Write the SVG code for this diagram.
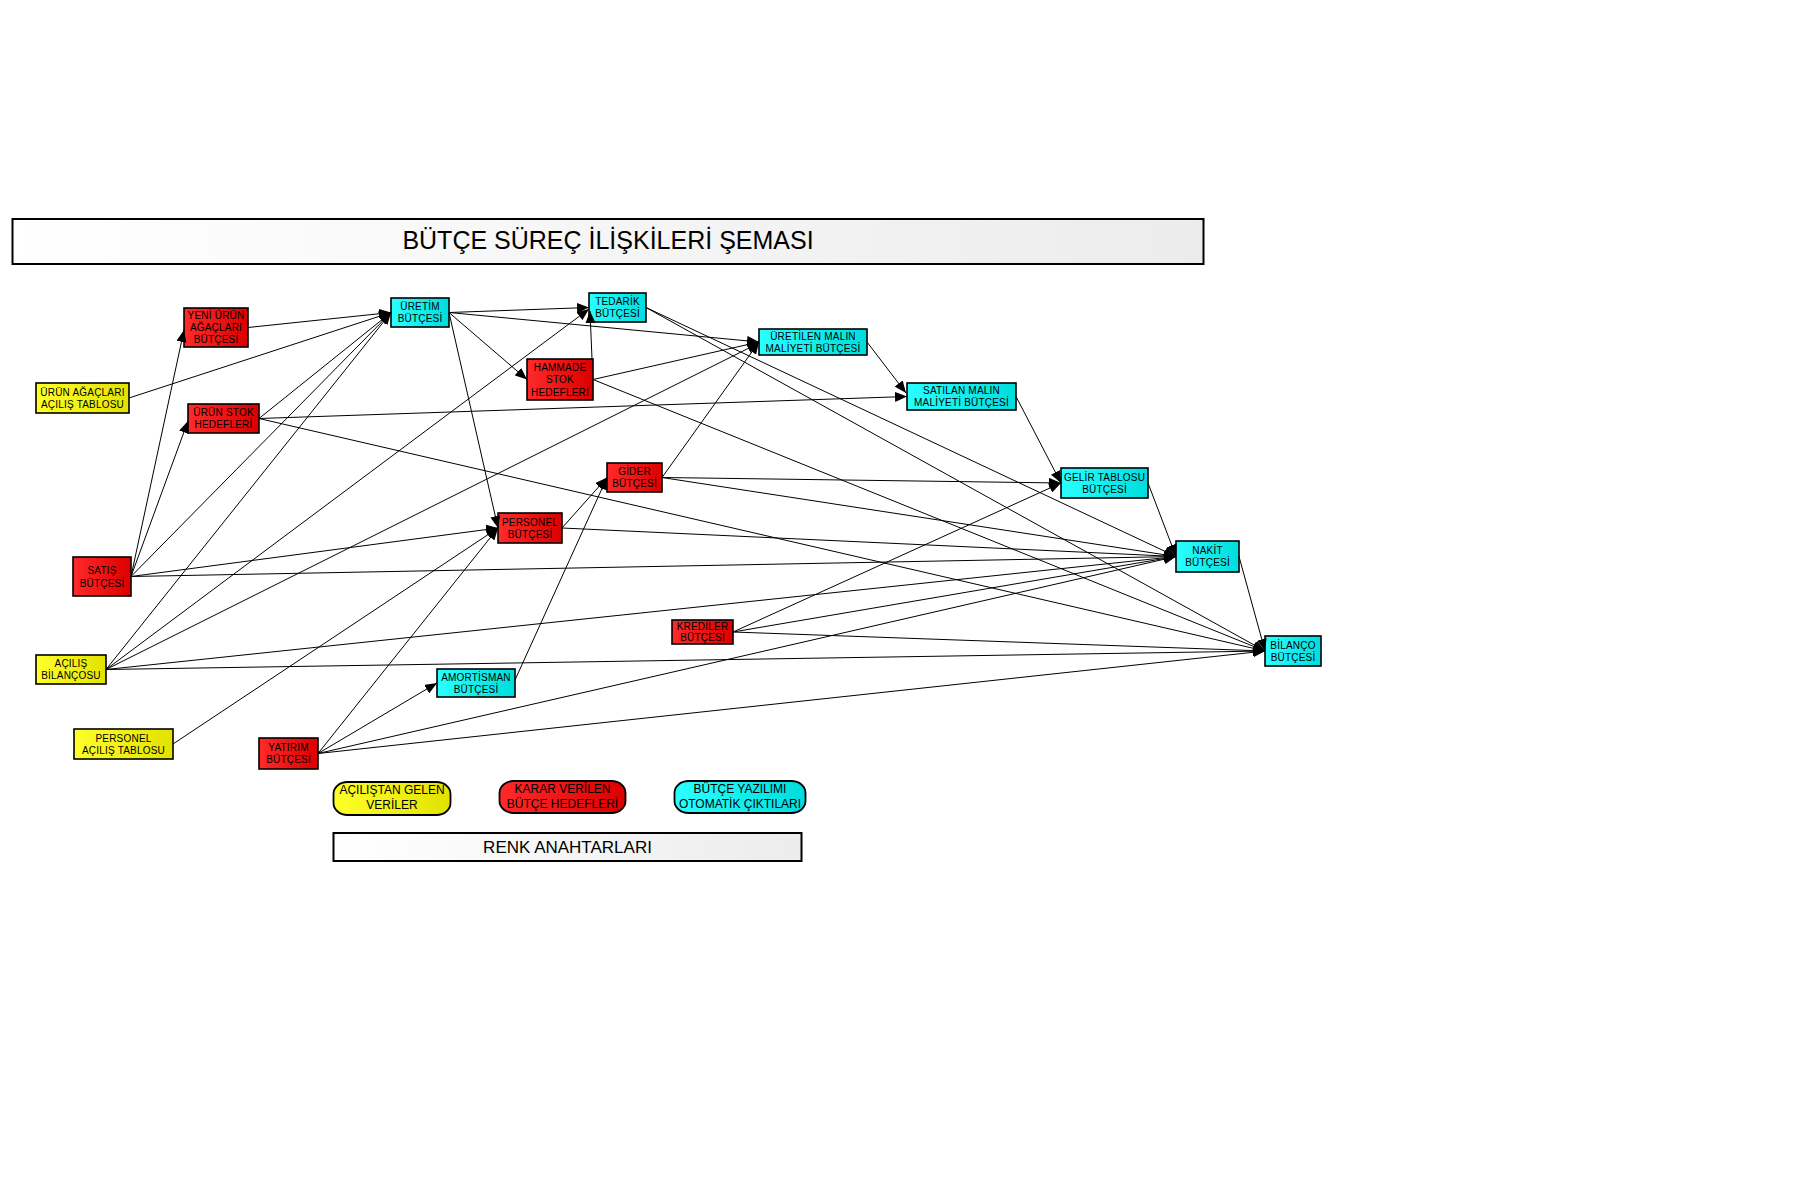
<svg xmlns="http://www.w3.org/2000/svg" width="1800" height="1200" viewBox="0 0 1800 1200">
<defs>
<linearGradient id="gR" x1="0" y1="0" x2="1" y2="0"><stop offset="0" stop-color="#ff2a2a"/><stop offset="1" stop-color="#dc0000"/></linearGradient>
<linearGradient id="gC" x1="0" y1="0" x2="1" y2="0"><stop offset="0" stop-color="#2affff"/><stop offset="1" stop-color="#00dcdc"/></linearGradient>
<linearGradient id="gY" x1="0" y1="0" x2="1" y2="0"><stop offset="0" stop-color="#ffff2a"/><stop offset="1" stop-color="#e2e200"/></linearGradient>
<linearGradient id="gW" x1="0" y1="0" x2="1" y2="0"><stop offset="0" stop-color="#ffffff"/><stop offset="1" stop-color="#ececec"/></linearGradient>
<marker id="arr" markerUnits="userSpaceOnUse" markerWidth="12" markerHeight="10" refX="12" refY="5" orient="auto"><path d="M0,0 L12,5 L0,10 z" fill="#000"/></marker>
<style>
.r{fill:url(#gR)}.c{fill:url(#gC)}.y{fill:url(#gY)}
.n rect{stroke:#000;stroke-width:1.6}
.n text{font-family:"Liberation Sans",Arial,sans-serif;font-size:10px;letter-spacing:0.2px;text-anchor:middle;fill:#000}
.e line{stroke:#000;stroke-width:1;marker-end:url(#arr)}
.lg rect{stroke:#000;stroke-width:1.8}
.lg text{font-family:"Liberation Sans",Arial,sans-serif;font-size:12px;text-anchor:middle;fill:#000}
.hd rect{fill:url(#gW);stroke:#000;stroke-width:2}
.hd text{font-family:"Liberation Sans",Arial,sans-serif;text-anchor:middle;fill:#000}
</style>
</defs>
<rect width="1800" height="1200" fill="#fff"/>

<g id="title" class="hd"><rect x="12.5" y="219" width="1191" height="45"/><text x="608" y="249" font-size="25">BÜTÇE SÜREÇ İLİŞKİLERİ ŞEMASI</text></g>

<g id="n-uretim" class="n"><rect class="c" x="391" y="298" width="58" height="29"/><text x="420" y="310">ÜRETİM</text><text x="420" y="322">BÜTÇESİ</text></g>
<g id="n-tedarik" class="n"><rect class="c" x="589" y="293" width="57" height="29"/><text x="617.5" y="305">TEDARİK</text><text x="617.5" y="317">BÜTÇESİ</text></g>
<g id="n-yeni" class="n"><rect class="r" x="184" y="308" width="64" height="39"/><text x="216" y="319">YENİ ÜRÜN</text><text x="216" y="331">AĞAÇLARI</text><text x="216" y="343">BÜTÇESİ</text></g>
<g id="n-urunagac" class="n"><rect class="y" x="36" y="383" width="93" height="30"/><text x="82.5" y="395.5">ÜRÜN AĞAÇLARI</text><text x="82.5" y="407.5">AÇILIŞ TABLOSU</text></g>
<g id="n-urunstok" class="n"><rect class="r" x="188" y="404" width="71" height="29"/><text x="223.5" y="416">ÜRÜN STOK</text><text x="223.5" y="428">HEDEFLERİ</text></g>
<g id="n-hammade" class="n"><rect class="r" x="527" y="359" width="66" height="41"/><text x="560" y="370.5">HAMMADE</text><text x="560" y="383">STOK</text><text x="560" y="395.5">HEDEFLERİ</text></g>
<g id="n-uretilen" class="n"><rect class="c" x="759" y="329" width="108" height="26"/><text x="813" y="339.5">ÜRETİLEN MALIN</text><text x="813" y="351.5">MALİYETİ BÜTÇESİ</text></g>
<g id="n-satilan" class="n"><rect class="c" x="907" y="383" width="109" height="27"/><text x="961.5" y="394">SATILAN MALIN</text><text x="961.5" y="406">MALİYETİ BÜTÇESİ</text></g>
<g id="n-gider" class="n"><rect class="r" x="607" y="463" width="55" height="29"/><text x="634.5" y="475">GİDER</text><text x="634.5" y="487">BÜTÇESİ</text></g>
<g id="n-gelir" class="n"><rect class="c" x="1061" y="468" width="87" height="30"/><text x="1104.5" y="480.5">GELİR TABLOSU</text><text x="1104.5" y="492.5">BÜTÇESİ</text></g>
<g id="n-personel" class="n"><rect class="r" x="498" y="513" width="64" height="30"/><text x="530" y="525.5">PERSONEL</text><text x="530" y="537.5">BÜTÇESİ</text></g>
<g id="n-satis" class="n"><rect class="r" x="73" y="557" width="58" height="39"/><text x="102" y="574">SATIŞ</text><text x="102" y="586.5">BÜTÇESİ</text></g>
<g id="n-nakit" class="n"><rect class="c" x="1176" y="541" width="63" height="31"/><text x="1207.5" y="554">NAKİT</text><text x="1207.5" y="566">BÜTÇESİ</text></g>
<g id="n-krediler" class="n"><rect class="r" x="672" y="620" width="61" height="24"/><text x="702.5" y="629.5">KREDİLER</text><text x="702.5" y="641">BÜTÇESİ</text></g>
<g id="n-acilis" class="n"><rect class="y" x="36" y="655" width="70" height="29"/><text x="71" y="667">AÇILIŞ</text><text x="71" y="679">BİLANÇOSU</text></g>
<g id="n-bilanco" class="n"><rect class="c" x="1265" y="636" width="56" height="30"/><text x="1293" y="648.5">BİLANÇO</text><text x="1293" y="660.5">BÜTÇESİ</text></g>
<g id="n-amortisman" class="n"><rect class="c" x="437" y="669" width="78" height="28"/><text x="476" y="680.5">AMORTİSMAN</text><text x="476" y="692.5">BÜTÇESİ</text></g>
<g id="n-persacilis" class="n"><rect class="y" x="74" y="729" width="99" height="30"/><text x="123.5" y="741.5">PERSONEL</text><text x="123.5" y="753.5">AÇILIŞ TABLOSU</text></g>
<g id="n-yatirim" class="n"><rect class="r" x="259" y="738" width="59" height="31"/><text x="288.5" y="751">YATIRIM</text><text x="288.5" y="763">BÜTÇESİ</text></g>

<g id="connectors" class="e">
<line x1="248" y1="327.5" x2="391" y2="312.5"/>
<line x1="129" y1="398" x2="391" y2="312.5"/>
<line x1="259" y1="418.5" x2="391" y2="312.5"/>
<line x1="131" y1="576.5" x2="391" y2="312.5"/>
<line x1="106" y1="669.5" x2="391" y2="312.5"/>
<line x1="131" y1="576.5" x2="184" y2="330"/>
<line x1="131" y1="576.5" x2="188" y2="421"/>
<line x1="131" y1="576.5" x2="498" y2="528"/>
<line x1="131" y1="576.5" x2="1176" y2="556.5"/>
<line x1="106" y1="669.5" x2="589" y2="309"/>
<line x1="106" y1="669.5" x2="759" y2="343"/>
<line x1="106" y1="669.5" x2="1176" y2="556.5"/>
<line x1="106" y1="669.5" x2="1265" y2="651"/>
<line x1="173" y1="744" x2="498" y2="528"/>
<line x1="318" y1="753.5" x2="498" y2="528"/>
<line x1="318" y1="753.5" x2="437" y2="683"/>
<line x1="318" y1="753.5" x2="1176" y2="556.5"/>
<line x1="318" y1="753.5" x2="1265" y2="651"/>
<line x1="515" y1="680" x2="607" y2="477.5"/>
<line x1="562" y1="528" x2="607" y2="477.5"/>
<line x1="562" y1="528" x2="1176" y2="556.5"/>
<line x1="449" y1="312.5" x2="498" y2="528"/>
<line x1="449" y1="312.5" x2="589" y2="307.5"/>
<line x1="449" y1="312.5" x2="527" y2="379.5"/>
<line x1="449" y1="312.5" x2="759" y2="342"/>
<line x1="592" y1="359" x2="590" y2="311"/>
<line x1="593" y1="379.5" x2="759" y2="342"/>
<line x1="593" y1="379.5" x2="1265" y2="651"/>
<line x1="646" y1="307.5" x2="1176" y2="556.5"/>
<line x1="646" y1="307.5" x2="1265" y2="651"/>
<line x1="867" y1="342" x2="906" y2="393"/>
<line x1="259" y1="418.5" x2="907" y2="396.5"/>
<line x1="259" y1="418.5" x2="1265" y2="651"/>
<line x1="662" y1="477.5" x2="759" y2="342"/>
<line x1="662" y1="477.5" x2="1061" y2="483"/>
<line x1="662" y1="477.5" x2="1176" y2="556.5"/>
<line x1="1016" y1="396.5" x2="1061" y2="483"/>
<line x1="1148" y1="483" x2="1176" y2="556.5"/>
<line x1="733" y1="632" x2="1061" y2="483"/>
<line x1="733" y1="632" x2="1176" y2="556.5"/>
<line x1="733" y1="632" x2="1265" y2="651"/>
<line x1="1239" y1="556.5" x2="1265" y2="651"/>
</g>

<g id="legend-acilis" class="lg"><rect class="y" x="333.5" y="782" width="117" height="33" rx="14" ry="12"/><text x="392" y="793.5">AÇILIŞTAN GELEN</text><text x="392" y="808.5">VERİLER</text></g>
<g id="legend-karar" class="lg"><rect class="r" x="499.5" y="781" width="126" height="32" rx="14" ry="12"/><text x="562.5" y="792.5">KARAR VERİLEN</text><text x="562.5" y="807.5">BÜTÇE HEDEFLERİ</text></g>
<g id="legend-otomatik" class="lg"><rect class="c" x="674.5" y="781" width="131" height="32" rx="14" ry="12"/><text x="740" y="792.5">BÜTÇE YAZILIMI</text><text x="740" y="807.5">OTOMATİK ÇIKTILARI</text></g>
<g id="legend-title" class="hd"><rect x="333.5" y="833" width="468" height="28"/><text x="567.5" y="853" font-size="17">RENK ANAHTARLARI</text></g>
</svg>
